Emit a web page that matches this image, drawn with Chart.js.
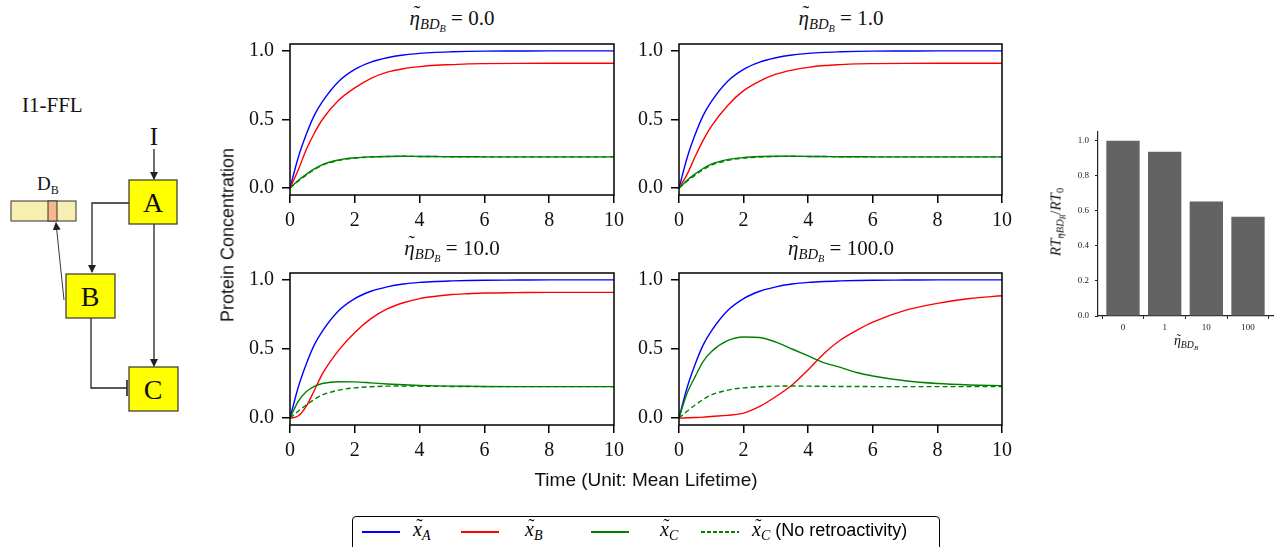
<!DOCTYPE html>
<html lang="en">
<head>
  <meta charset="UTF-8" />
  <title>I1-FFL retroactivity</title>
  <script src="https://cdn.jsdelivr.net/npm/chart.js"></script>
  <style>
    body { margin: 0; background: #fff; width: 1276px; height: 547px; position: relative; overflow: hidden; }
    canvas { position: absolute; }
    .lbl { position: absolute; transform: translate(-50%, -50%); white-space: nowrap; color: #111; }
    .serif { font-family: 'Liberation Serif', 'DejaVu Serif', serif; }
    .sans { font-family: 'Liberation Sans', Arial, sans-serif; }
    .m sub { font-size: 0.7em; vertical-align: -0.3em; line-height: 0; }
    .acc { position: relative; display: inline-block; }
    .acc .tl { position: absolute; left: 0.12em; right: -0.08em; top: -0.08em; text-align: center; font-style: normal; font-size: 0.95em; line-height: 1; }
    .title { font-size: 21px; }
    .legend { position: absolute; left: 352px; top: 516px; width: 586px; height: 44px; border: 1.5px solid #000; border-radius: 4px; }
    .legend .sw { position: absolute; top: 14px; width: 38px; height: 2px; }
    .legend .tx { position: absolute; top: 1px; font-size: 20px; white-space: nowrap; }
  </style>
</head>
<body>
  <!-- circuit diagram -->
  <svg width="210" height="430" style="position:absolute;left:0;top:0" font-family="Liberation Serif, serif">
    <defs>
      <marker id="ah" markerWidth="8" markerHeight="8" refX="7" refY="4" orient="auto" markerUnits="userSpaceOnUse">
        <path d="M0,0 L8,4 L0,8 z" fill="#222"/>
      </marker>
    </defs>
    <text x="22" y="112" font-size="21" fill="#111">I1-FFL</text>
    <text x="154" y="145" font-size="25" text-anchor="middle" fill="#111">I</text>
    <line x1="154" y1="149" x2="154" y2="179" stroke="#222" stroke-width="1.3" marker-end="url(#ah)"/>
    <text x="37" y="190" font-size="19" fill="#111">D<tspan font-size="12" dy="4">B</tspan></text>
    <rect x="11" y="201" width="65" height="20" fill="#f6efb0" stroke="#333" stroke-width="1"/>
    <rect x="48" y="201" width="9" height="20" fill="#f5b88c" stroke="#333" stroke-width="1"/>
    <path d="M129,203 H92 V272" fill="none" stroke="#222" stroke-width="1.3" marker-end="url(#ah)"/>
    <path d="M154,224 V366" fill="none" stroke="#222" stroke-width="1.3" marker-end="url(#ah)"/>
    <path d="M91,318 V388 H127" fill="none" stroke="#222" stroke-width="1.3"/>
    <path d="M127,380 V396" fill="none" stroke="#222" stroke-width="1.6"/>
    <line x1="64" y1="300" x2="56" y2="223" stroke="#222" stroke-width="0.9" marker-end="url(#ah)"/>
    <rect x="129" y="180" width="48" height="44" fill="#ffff00" stroke="#333" stroke-width="1.2"/>
    <rect x="66" y="274" width="49" height="44" fill="#ffff00" stroke="#333" stroke-width="1.2"/>
    <rect x="129" y="367" width="49" height="44" fill="#ffff00" stroke="#333" stroke-width="1.2"/>
    <text x="153" y="212" font-size="28" text-anchor="middle" fill="#111">A</text>
    <text x="90" y="306" font-size="28" text-anchor="middle" fill="#111">B</text>
    <text x="153" y="399" font-size="28" text-anchor="middle" fill="#111">C</text>
  </svg>

  <canvas id="p0" width="404" height="207" style="left:230px;top:38px"></canvas>
  <canvas id="p1" width="403" height="207" style="left:619px;top:38px"></canvas>
  <canvas id="p2" width="404" height="208" style="left:230px;top:267px"></canvas>
  <canvas id="p3" width="403" height="208" style="left:619px;top:267px"></canvas>
  <canvas id="bars" width="208" height="211" style="left:1068px;top:125px"></canvas>

  <div class="lbl serif title m" style="left:452px;top:18px"><span class="acc"><i>η</i><span class="tl">˜</span></span><sub><i>BD</i><sub><i>B</i></sub></sub> = 0.0</div>
  <div class="lbl serif title m" style="left:841px;top:18px"><span class="acc"><i>η</i><span class="tl">˜</span></span><sub><i>BD</i><sub><i>B</i></sub></sub> = 1.0</div>
  <div class="lbl serif title m" style="left:452px;top:248px"><span class="acc"><i>η</i><span class="tl">˜</span></span><sub><i>BD</i><sub><i>B</i></sub></sub> = 10.0</div>
  <div class="lbl serif title m" style="left:841px;top:248px"><span class="acc"><i>η</i><span class="tl">˜</span></span><sub><i>BD</i><sub><i>B</i></sub></sub> = 100.0</div>

  <div class="lbl sans" style="left:228px;top:235px;font-size:18px;transform:translate(-50%,-50%) rotate(-90deg)">Protein Concentration</div>
  <div class="lbl sans" style="left:646px;top:480px;font-size:19px">Time (Unit: Mean Lifetime)</div>

  <div class="lbl serif m" style="left:1056px;top:222px;font-size:15px;transform:translate(-50%,-50%) rotate(-90deg)"><i>RT</i><sub><span class="acc"><i>η</i><span class="tl">˜</span></span><i>BD</i><sub><i>B</i></sub></sub>/<i>RT</i><sub>0</sub></div>
  <div class="lbl serif m" style="left:1186px;top:341px;font-size:14px"><span class="acc"><i>η</i><span class="tl">˜</span></span><sub><i>BD</i><sub><i>B</i></sub></sub></div>

  <!-- legend -->
  <div class="legend">
    <div class="sw" style="left:9px;background:#0000ff"></div>
    <div class="tx serif m" style="left:60px"><span class="acc"><i>x</i><span class="tl">˜</span></span><sub><i>A</i></sub></div>
    <div class="sw" style="left:108px;background:#ff0000"></div>
    <div class="tx serif m" style="left:172px"><span class="acc"><i>x</i><span class="tl">˜</span></span><sub><i>B</i></sub></div>
    <div class="sw" style="left:238px;background:#008000"></div>
    <div class="tx serif m" style="left:307px"><span class="acc"><i>x</i><span class="tl">˜</span></span><sub><i>C</i></sub></div>
    <div class="sw" style="left:348px;background:repeating-linear-gradient(90deg,#008000 0 4px,transparent 4px 6px)"></div>
    <div class="tx serif m" style="left:399px"><span class="acc"><i>x</i><span class="tl">˜</span></span><sub><i>C</i></sub> <span class="sans" style="font-size:18px">(No retroactivity)</span></div>
  </div>

  <script>
    // time grid (Unit: mean lifetime)
    const times = [0, 0.25, 0.5, 0.75, 1, 1.5, 2, 2.5, 3, 3.5, 4, 4.5, 5, 5.5, 6, 7, 8, 9, 10];

    // x_A is the same in every panel
    const xA = [0, 0.22, 0.39, 0.53, 0.63, 0.777, 0.865, 0.918, 0.95, 0.97, 0.982, 0.989, 0.993, 0.996, 0.998, 0.999, 1.0, 1.0, 1.0];

    // x_B for eta = 0, 1, 10, 100
    const xB_0 = [0, 0.13, 0.28, 0.40, 0.50, 0.64, 0.73, 0.80, 0.845, 0.87, 0.885, 0.895, 0.90, 0.905, 0.907, 0.909, 0.91, 0.91, 0.91];
    const xB_1 = [0, 0.10, 0.23, 0.35, 0.45, 0.60, 0.71, 0.78, 0.83, 0.86, 0.88, 0.893, 0.90, 0.905, 0.907, 0.909, 0.91, 0.91, 0.91];
    const xB_10 = [0, 0.015, 0.085, 0.20, 0.32, 0.49, 0.62, 0.72, 0.79, 0.835, 0.865, 0.882, 0.894, 0.90, 0.905, 0.908, 0.91, 0.91, 0.91];
    const xB_100 = [0, 0.002, 0.004, 0.007, 0.012, 0.02, 0.036, 0.084, 0.156, 0.24, 0.35, 0.47, 0.565, 0.635, 0.695, 0.78, 0.83, 0.865, 0.885];

    // x_C with retroactivity
    const xC_0 = [0, 0.055, 0.10, 0.14, 0.172, 0.205, 0.221, 0.228, 0.231, 0.232, 0.231, 0.23, 0.229, 0.229, 0.228, 0.228, 0.228, 0.228, 0.228];
    const xC_1 = [0, 0.058, 0.104, 0.143, 0.175, 0.208, 0.223, 0.23, 0.232, 0.232, 0.231, 0.23, 0.229, 0.229, 0.228, 0.228, 0.228, 0.228, 0.228];
    const xC_10 = [0, 0.12, 0.19, 0.23, 0.25, 0.263, 0.262, 0.255, 0.247, 0.241, 0.236, 0.233, 0.231, 0.23, 0.229, 0.228, 0.228, 0.228, 0.228];
    const xC_100 = [0, 0.18, 0.30, 0.41, 0.48, 0.56, 0.587, 0.583, 0.55, 0.50, 0.45, 0.40, 0.367, 0.33, 0.305, 0.27, 0.25, 0.24, 0.235];

    // x_C without retroactivity (dashed, same in all panels)
    const xC_noRetro = [0, 0.05, 0.095, 0.135, 0.167, 0.202, 0.219, 0.227, 0.231, 0.232, 0.231, 0.23, 0.229, 0.229, 0.228, 0.228, 0.228, 0.228, 0.228];

    const yTicks = [0, 0.5, 1.0];

    // bar chart: RT ratio per eta
    const barCats = ['0', '1', '10', '100'];
    const barValues = [1.0, 0.937, 0.653, 0.566];
    const barTicks = [0, 0.2, 0.4, 0.6, 0.8, 1.0];

    const tickFont = { family: 'Liberation Serif', size: 20 };

    // full box around the plot area
    const frame = {
      id: 'frame',
      afterDraw(chart) {
        const a = chart.chartArea, c = chart.ctx;
        c.save();
        c.strokeStyle = '#000';
        c.lineWidth = 1.5;
        c.strokeRect(a.left, a.top, a.right - a.left, a.bottom - a.top);
        c.restore();
      }
    };

    // fixed axis sizes, no automatic label padding
    function fixY(w) {
      return s => { s.width = w; s.paddingTop = 0; s.paddingBottom = 0; };
    }
    function fixX(h) {
      return s => { s.height = h; s.paddingLeft = 0; s.paddingRight = 0; };
    }

    function line(data, color, order, dash) {
      return {
        data: times.map((t, i) => ({ x: t, y: data[i] })),
        borderColor: color,
        borderWidth: 1.4,
        borderDash: dash || [],
        pointRadius: 0,
        cubicInterpolationMode: 'monotone',
        order: order
      };
    }

    function makePanel(id, xB, xC) {
      new Chart(document.getElementById(id), {
        type: 'line',
        data: {
          datasets: [
            line(xA, '#0000ff', 3),
            line(xB, '#ff0000', 2),
            line(xC, '#008000', 1),
            line(xC_noRetro, '#008000', 0, [5, 3])
          ]
        },
        options: {
          responsive: false,
          animation: false,
          devicePixelRatio: 1,
          layout: { padding: { top: 6, right: 20, left: 0, bottom: 0 } },
          plugins: { legend: { display: false }, tooltip: { enabled: false } },
          scales: {
            x: {
              type: 'linear', min: 0, max: 10,
              afterFit: fixX(50),
              border: { display: false },
              grid: { drawOnChartArea: false, tickLength: 8, tickColor: '#000', lineWidth: 1.5 },
              ticks: { stepSize: 2, padding: 6, color: '#111', font: tickFont, maxRotation: 0 }
            },
            y: {
              min: -0.05, max: 1.05,
              afterFit: fixY(60),
              afterBuildTicks: s => { s.ticks = yTicks.map(v => ({ value: v })); },
              border: { display: false },
              grid: { drawOnChartArea: false, tickLength: 8, tickColor: '#000', lineWidth: 1.5 },
              ticks: { padding: 8, color: '#111', font: tickFont, callback: v => v.toFixed(1) }
            }
          }
        },
        plugins: [frame]
      });
    }

    makePanel('p0', xB_0, xC_0);
    makePanel('p1', xB_1, xC_1);
    makePanel('p2', xB_10, xC_10);
    makePanel('p3', xB_100, xC_100);

    // Chart: retroactivity ratio bars
    new Chart(document.getElementById('bars'), {
      type: 'bar',
      data: {
        datasets: [{
          data: barValues.map((v, i) => ({ x: i, y: v })),
          backgroundColor: '#636363',
          barPercentage: 1.0,
          categoryPercentage: 0.8
        }]
      },
      options: {
        responsive: false,
        animation: false,
        devicePixelRatio: 1,
        layout: { padding: { top: 7, right: 3, left: 0, bottom: 0 } },
        plugins: { legend: { display: false }, tooltip: { enabled: false } },
        scales: {
          x: {
            type: 'linear', min: -0.6, max: 3.6, offset: false,
            afterFit: fixX(20),
            afterBuildTicks: s => { s.ticks = barCats.map((c, i) => ({ value: i })); },
            border: { color: '#222', width: 1.2 },
            grid: { drawOnChartArea: false, tickLength: 3, tickColor: '#222' },
            ticks: { padding: 3, color: '#222', font: { family: 'Liberation Serif', size: 9 }, callback: v => barCats[v] }
          },
          y: {
            min: 0, max: 1.05,
            afterFit: fixY(30),
            afterBuildTicks: s => { s.ticks = barTicks.map(v => ({ value: v })); },
            border: { color: '#222', width: 1.2 },
            grid: { drawOnChartArea: false, tickLength: 3, tickColor: '#222' },
            ticks: { padding: 6, color: '#222', font: { family: 'Liberation Serif', size: 9 }, callback: v => v.toFixed(1) }
          }
        }
      }
    });
  </script>
</body>
</html>
